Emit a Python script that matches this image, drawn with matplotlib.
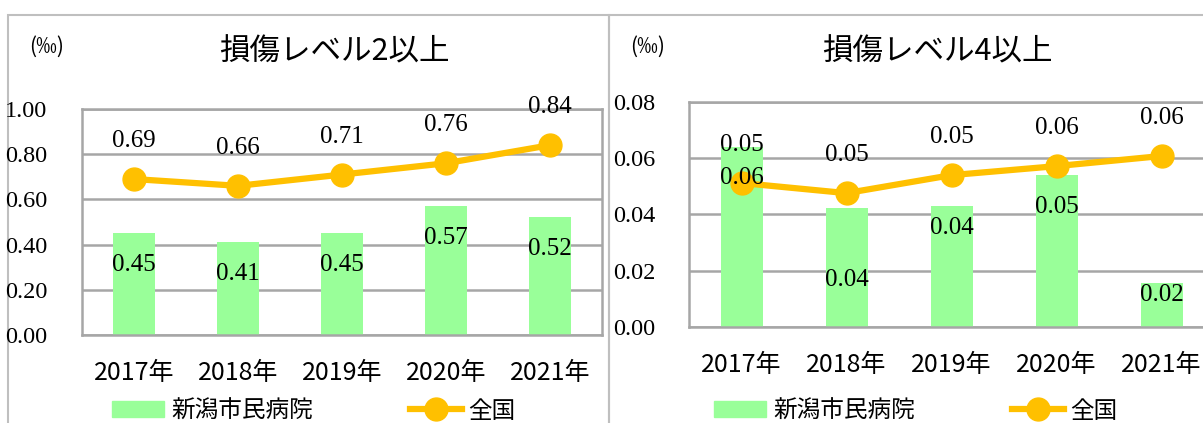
import matplotlib
matplotlib.use("Agg")
import matplotlib.pyplot as plt
from matplotlib.patches import Rectangle, Patch
from matplotlib.lines import Line2D

W, H = 1203, 423
DPI = 100

years = ['2017年', '2018年', '2019年', '2020年', '2021年']

# 損傷レベル2以上
lv2_hosp = [0.45, 0.41, 0.45, 0.57, 0.52]
lv2_all = [0.69, 0.66, 0.71, 0.76, 0.84]
lv2_ticks = [0.0, 0.2, 0.4, 0.6, 0.8, 1.0]

# 損傷レベル4以上
lv4_hosp = [0.064, 0.0423, 0.043, 0.054, 0.0157]
lv4_all = [0.0512, 0.0476, 0.054, 0.0572, 0.0608]
lv4_ticks = [0.0, 0.02, 0.04, 0.06, 0.08]

BAR = '#99ff99'
LINE = '#ffc000'
GRID = '#a6a6a6'
SANS = ['Noto Sans CJK JP', 'DejaVu Sans']
SERIF = 'Liberation Serif'

fig = plt.figure(figsize=(W / DPI, H / DPI), dpi=DPI)


def px(x0, y0, x1, y1):
    # pixel box -> figure fraction [left, bottom, width, height]
    return [x0 / W, (H - y1) / H, (x1 - x0) / W, (y1 - y0) / H]


# panel frames
for x0, x1 in [(8, 609), (609, 1260)]:
    fig.add_artist(Rectangle((x0 / W, -0.1), (x1 - x0) / W, (H - 15) / H + 0.1,
                             transform=fig.transFigure, fill=False,
                             ec='#bfbfbf', lw=1.5, zorder=0))


def panel(box, hosp, allv, ticks, title, title_x, unit_x, bar_off, line_off, leg_x, ylab_pad):
    ax = fig.add_axes(px(*box))
    x = range(len(years))
    ax.bar(x, hosp, width=0.4, color=BAR, zorder=2)
    ax.plot(x, allv, color=LINE, lw=4.5, marker='o', ms=16.5, zorder=3)
    ax.set_xlim(-0.5, len(years) - 0.5)
    ax.set_ylim(ticks[0], ticks[-1])
    ax.set_yticks(ticks)
    ax.set_yticklabels(['%.2f' % t for t in ticks], fontfamily=SERIF, fontsize=17.5)
    ax.set_xticks(list(x))
    ax.set_xticklabels(years, fontfamily=SANS, fontsize=18)
    ax.tick_params(axis='y', length=0, pad=ylab_pad)
    ax.tick_params(axis='x', length=0, pad=18)
    ax.grid(axis='y', color=GRID, lw=1.8, zorder=1)
    ax.set_axisbelow(True)
    for s in ax.spines.values():
        s.set_color(GRID)
        s.set_linewidth(1.8)
    for i, v in enumerate(hosp):
        ax.annotate('%.2f' % v, (i, v), xytext=(0, -bar_off[i]), textcoords='offset pixels',
                    ha='center', va='center', fontfamily=SERIF, fontsize=18, zorder=5)
    for i, v in enumerate(allv):
        ax.annotate('%.2f' % v, (i, v), xytext=(0, line_off), textcoords='offset pixels',
                    ha='center', va='center', fontfamily=SERIF, fontsize=18, zorder=5)
    fig.text(title_x / W, (H - 52) / H, title, ha='center', va='center',
             fontfamily=SANS, fontsize=22)
    fig.text(unit_x / W, (H - 47) / H, '(‰)', ha='center', va='center',
             fontfamily=SANS, fontsize=15)
    handles = [Patch(color=BAR),
               Line2D([], [], color=LINE, lw=4.5, marker='o', ms=16.5)]
    fig.legend(handles, ['新潟市民病院', '全国'], loc='center left',
               bbox_to_anchor=(leg_x / W, (H - 411) / H), ncol=2, frameon=False,
               prop={'family': SANS, 'size': 17}, borderpad=0, borderaxespad=0,
               handlelength=2.2, handleheight=0.65, handletextpad=0.3,
               columnspacing=4.1)
    return ax


panel((82, 109, 602, 335), lv2_hosp, lv2_all, lv2_ticks, '損傷レベル2以上',
      334, 47, [32] * 5, 38, 112, 25)
panel((689, 102, 1214, 327), lv4_hosp, lv4_all, lv4_ticks, '損傷レベル4以上',
      937, 648, [31, 72, 22, 32, 12], 38, 714, 24)

fig.savefig('out.png', dpi=DPI)
